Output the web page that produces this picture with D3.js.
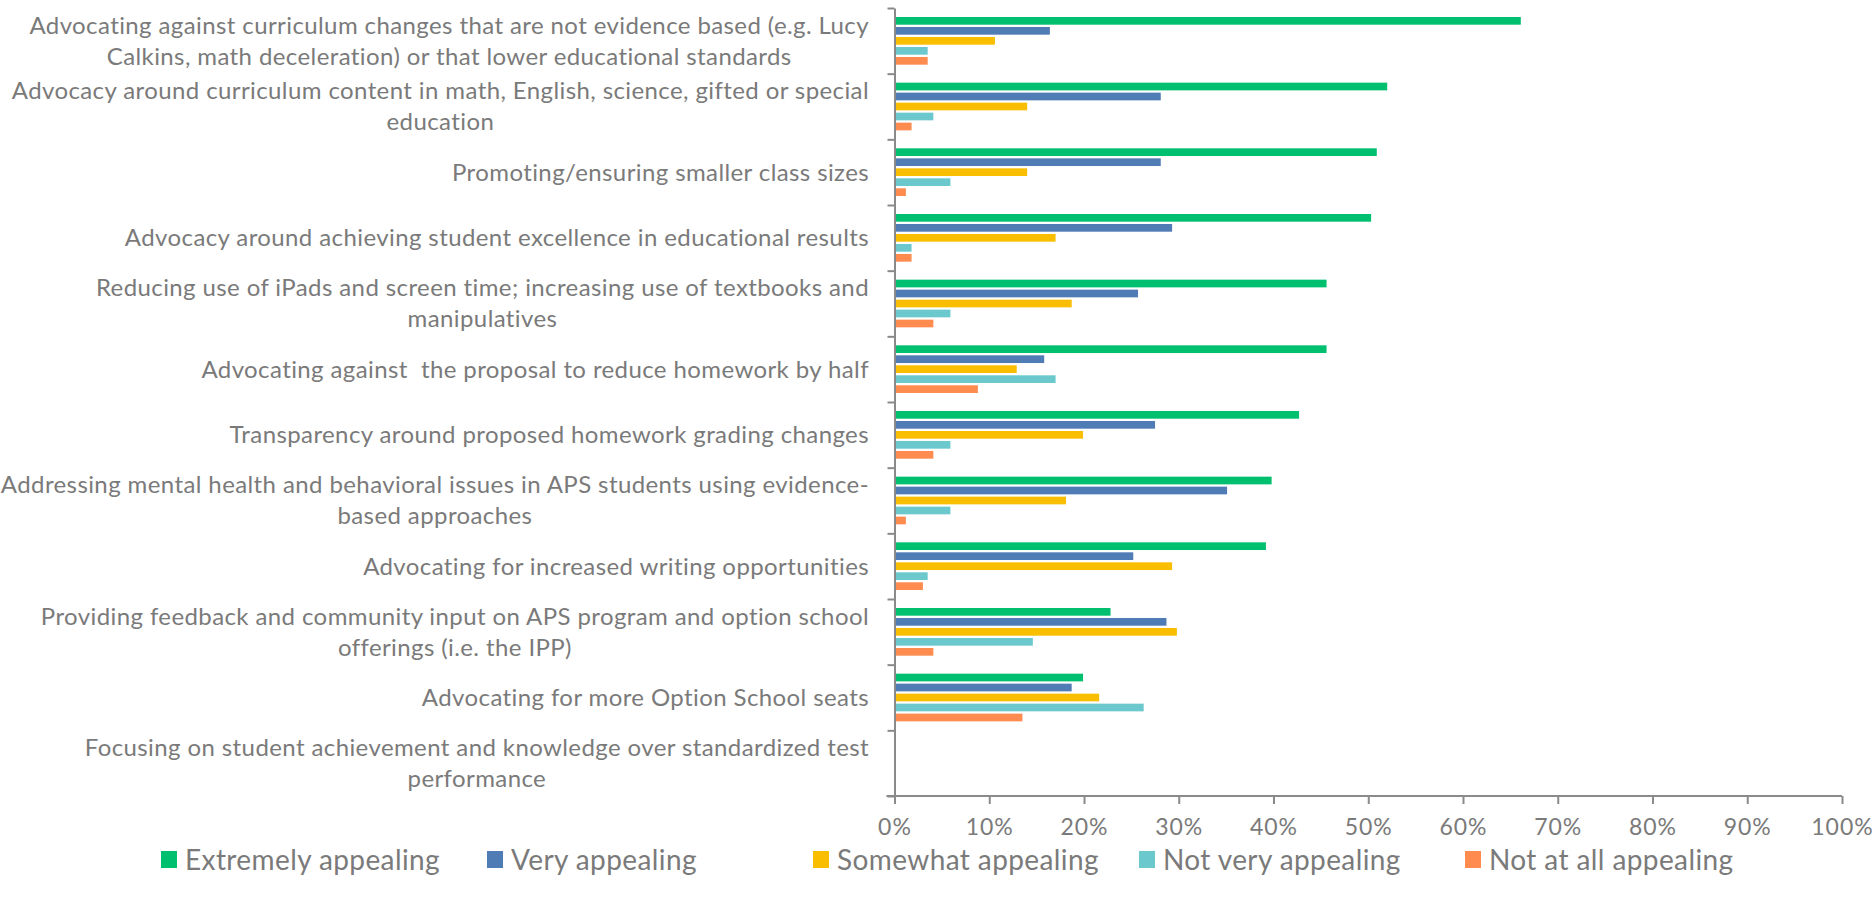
<!DOCTYPE html>
<html>
<head>
<meta charset="utf-8">
<script src="https://cdn.jsdelivr.net/npm/d3@7"></script>
<style>
  body { margin: 0; background: #fff; }
  svg text { font-family: Lato, "Liberation Sans", sans-serif; fill: #7a7a7a; white-space: pre; }
</style>
</head>
<body>
<svg id="chart" width="1874" height="906"></svg>
<script>
// category labels, already broken into lines as in the original
var categories = [
  ["Advocating against curriculum changes that are not evidence based (e.g. Lucy", "Calkins, math deceleration) or that lower educational standards"],
  ["Advocacy around curriculum content in math, English, science, gifted or special", "education"],
  ["Promoting/ensuring smaller class sizes"],
  ["Advocacy around achieving student excellence in educational results"],
  ["Reducing use of iPads and screen time; increasing use of textbooks and", "manipulatives"],
  ["Advocating against  the proposal to reduce homework by half"],
  ["Transparency around proposed homework grading changes"],
  ["Addressing mental health and behavioral issues in APS students using evidence-", "based approaches"],
  ["Advocating for increased writing opportunities"],
  ["Providing feedback and community input on APS program and option school", "offerings (i.e. the IPP)"],
  ["Advocating for more Option School seats"],
  ["Focusing on student achievement and knowledge over standardized test", "performance"]
]
var seriesNames = ["Extremely appealing", "Very appealing", "Somewhat appealing", "Not very appealing", "Not at all appealing"]
var seriesColors = ["#00bf6f", "#507cb6", "#f9be00", "#6bc8cd", "#ff8b4f"]

// percent values, one per category
var extremely = [66.1, 52.0, 50.9, 50.3, 45.6, 45.6, 42.7, 39.8, 39.2, 22.8, 19.9, 0]
var very      = [16.4, 28.1, 28.1, 29.3, 25.7, 15.8, 27.5, 35.1, 25.2, 28.7, 18.7, 0]
var somewhat  = [10.6, 14.0, 14.0, 17.0, 18.7, 12.9, 19.9, 18.1, 29.3, 29.8, 21.6, 0]
var notVery   = [3.5, 4.1, 5.9, 1.8, 5.9, 17.0, 5.9, 5.9, 3.5, 14.6, 26.3, 0]
var notAtAll  = [3.5, 1.8, 1.2, 1.8, 4.1, 8.8, 4.1, 1.2, 3.0, 4.1, 13.5, 0]
var xTicks = [0, 10, 20, 30, 40, 50, 60, 70, 80, 90, 100]

var series = [extremely, very, somewhat, notVery, notAtAll]
var axisColor = "#8a8a8a"
var plotL = 894.5, plotR = 1842, plotT = 8, plotB = 796 // "top" is taken by window.top

var svg = d3.select("#chart")
var idx = d3.range(categories.length)

var x = d3.scaleLinear().domain([0, 100]).range([plotL, plotR])
var y0 = d3.scaleBand().domain(idx).range([plotT, plotB]).padding(0)
var y1 = d3.scaleBand().domain(d3.range(series.length)).range([0, y0.bandwidth()])
  .paddingInner(0.23).paddingOuter(0.9)

// bars
var groups = svg.append("g").selectAll("g")
  .data(idx).join("g")
  .attr("transform", function (i) { return "translate(0," + y0(i) + ")" })
groups.selectAll("rect")
  .data(function (i) { return series.map(function (s, k) { return {k: k, v: s[i]} }) })
  .join("rect")
  .attr("x", x(0))
  .attr("y", function (d) { return y1(d.k) })
  .attr("height", y1.bandwidth())
  .attr("width", function (d) { return x(d.v) - x(0) })
  .attr("fill", function (d) { return seriesColors[d.k] })

// y axis: ticks between categories
var yEdge = d3.scaleLinear().domain([0, categories.length]).range([plotT, plotB])
var gy = svg.append("g").attr("transform", "translate(" + plotL + ",0)")
  .call(d3.axisLeft(yEdge).tickValues(d3.range(categories.length + 1)).tickFormat("").tickSize(7).tickSizeOuter(0))
gy.selectAll("line, path").attr("stroke", axisColor).attr("stroke-width", 2)

// x axis
var gx = svg.append("g").attr("transform", "translate(0," + plotB + ")")
  .call(d3.axisBottom(x).tickValues(xTicks).tickFormat(function (d) { return d + "%" })
    .tickSize(8).tickSizeOuter(0).tickPadding(15))
gx.select(".domain").attr("d", "M" + (plotL - 8) + ",0H" + plotR)
gx.selectAll("line, path").attr("stroke", axisColor).attr("stroke-width", 2)
gx.selectAll("text").attr("font-size", 23).attr("letter-spacing", 1).style("font-family", null)

// category labels, multi-line centered, right aligned as a block
var lineH = 31
var labelRight = 869
svg.append("g").selectAll("text")
  .data(idx).join("text")
  .attr("font-size", 24)
  .attr("letter-spacing", 0.4)
  .attr("text-anchor", "middle")
  .each(function (i) {
    var t = d3.select(this)
    var lines = categories[i]
    var cy = y0(i) + y0.bandwidth() / 2
    lines.forEach(function (ln, j) {
      t.append("tspan").attr("y", cy + (j - (lines.length - 1) / 2) * lineH).attr("dy", "0.35em").text(ln)
    })
    var w = d3.max(t.selectAll("tspan").nodes(), function (n) { return n.getComputedTextLength() })
    t.selectAll("tspan").attr("x", labelRight - w / 2)
  })

// legend
var lg = d3.scaleBand().domain(d3.range(seriesNames.length)).range([161, 161 + 5 * 326])
var items = svg.append("g").selectAll("g")
  .data(d3.range(seriesNames.length)).join("g")
  .attr("transform", function (k) { return "translate(" + lg(k) + ",851)" })
items.append("rect").attr("width", 16).attr("height", 17).attr("fill", function (k) { return seriesColors[k] })
items.append("text").attr("x", 24).attr("y", 19).attr("font-size", 28).attr("letter-spacing", 0.4)
  .text(function (k) { return seriesNames[k] })
</script>
</body>
</html>
